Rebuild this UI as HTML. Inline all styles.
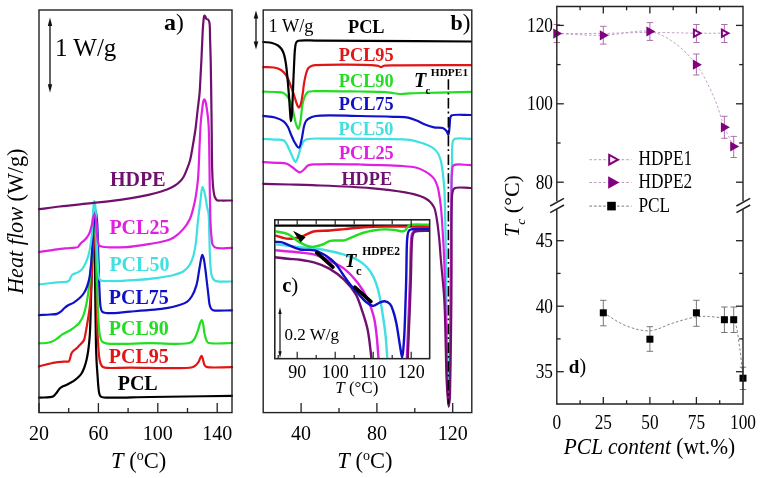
<!DOCTYPE html>
<html><head><meta charset="utf-8"><style>
html,body{margin:0;padding:0;background:#fff;}
svg{display:block;filter:blur(0.3px);font-family:"Liberation Serif",serif;}
</style></head><body>
<svg width="762" height="478" viewBox="0 0 762 478">
<rect width="762" height="478" fill="#fff"/>
<path d="M39.00,397.70 C43.67,397.30 50.17,397.82 53.00,396.50 C54.55,395.78 54.99,394.67 56.00,393.50 C57.22,392.08 58.39,389.75 59.70,388.50 C60.75,387.50 61.86,386.89 63.00,386.30 C64.09,385.73 65.23,385.53 66.40,385.00 C67.72,384.40 69.13,383.60 70.50,382.80 C71.93,381.97 73.45,381.08 74.80,380.10 C76.11,379.14 77.37,378.11 78.50,377.00 C79.60,375.91 80.60,374.90 81.50,373.50 C82.58,371.83 83.49,369.64 84.30,367.50 C85.18,365.17 85.86,362.70 86.50,360.00 C87.23,356.92 87.79,353.68 88.30,350.00 C88.93,345.52 89.39,341.05 89.80,335.00 C90.42,325.78 90.62,312.40 91.00,300.00 C91.43,285.94 91.80,268.48 92.20,255.00 C92.53,243.99 92.81,231.51 93.20,225.00 C93.39,221.85 93.62,218.00 93.80,218.00 C94.08,218.01 94.30,227.71 94.50,235.00 C94.85,248.10 94.96,272.10 95.20,290.00 C95.43,307.06 95.60,326.71 95.90,340.00 C96.10,348.82 96.29,355.85 96.60,362.00 C96.83,366.45 97.12,369.59 97.40,373.50 C97.69,377.58 97.95,382.41 98.30,386.00 C98.57,388.73 98.69,391.34 99.20,393.20 C99.54,394.45 99.86,395.53 100.50,396.20 C101.03,396.76 101.34,396.93 102.50,397.20 C107.85,398.45 132.02,397.17 150.00,397.00 C173.63,396.78 204.67,396.20 232.00,395.80" fill="none" stroke="#000000" stroke-width="2.20" stroke-linejoin="round" stroke-linecap="round" />
<path d="M39.00,366.40 C44.23,365.13 50.17,363.37 54.70,362.60 C58.09,362.02 61.11,361.93 63.70,361.70 C65.67,361.53 67.83,362.09 68.90,361.30 C69.78,360.65 69.81,359.20 70.20,358.00 C70.65,356.61 70.74,354.70 71.40,353.40 C71.99,352.25 72.93,351.35 73.80,350.50 C74.63,349.69 75.63,349.18 76.50,348.40 C77.43,347.56 78.33,346.48 79.20,345.60 C79.99,344.79 80.75,344.16 81.50,343.30 C82.35,342.32 83.34,341.43 84.00,340.00 C84.93,337.99 85.24,334.82 85.80,332.00 C86.42,328.86 86.91,325.64 87.50,322.00 C88.20,317.64 89.10,312.95 89.70,307.60 C90.44,300.93 90.81,293.07 91.30,285.00 C91.86,275.71 92.31,263.99 92.80,255.00 C93.20,247.66 93.40,238.71 94.00,235.00 C94.24,233.54 94.58,231.98 94.80,232.00 C95.34,232.06 95.44,242.82 95.70,250.00 C96.09,260.70 96.32,276.67 96.60,290.00 C96.88,303.33 97.03,319.87 97.40,330.00 C97.63,336.20 97.88,340.28 98.20,345.00 C98.49,349.23 98.73,353.70 99.20,357.00 C99.53,359.35 99.77,361.30 100.40,363.00 C100.91,364.40 101.53,365.81 102.40,366.60 C103.12,367.25 103.65,367.43 105.00,367.70 C109.03,368.51 119.80,367.65 130.00,367.60 C146.11,367.52 184.26,369.44 192.30,367.20 C194.41,366.61 194.92,365.94 196.00,365.00 C197.10,364.04 198.05,362.76 198.80,361.50 C199.54,360.26 199.94,358.51 200.50,357.50 C200.87,356.82 201.26,355.87 201.60,355.90 C202.01,355.94 202.32,357.42 202.70,358.50 C203.30,360.20 203.71,363.77 204.60,365.20 C205.14,366.06 205.37,366.46 206.50,366.90 C210.06,368.29 223.50,367.10 232.00,367.20" fill="none" stroke="#e01515" stroke-width="2.20" stroke-linejoin="round" stroke-linecap="round" />
<path d="M39.00,343.30 C41.33,343.20 43.80,343.30 46.00,343.00 C48.01,342.73 49.91,342.39 51.70,341.70 C53.47,341.02 55.03,340.03 56.70,338.90 C58.59,337.62 60.60,335.47 62.40,334.30 C63.83,333.37 65.14,332.91 66.50,332.20 C67.87,331.48 69.17,330.90 70.60,330.00 C72.31,328.91 74.44,327.30 76.00,326.00 C77.30,324.91 78.34,324.16 79.40,322.80 C80.75,321.07 82.06,318.73 83.10,316.20 C84.35,313.17 85.13,309.64 86.00,305.70 C87.09,300.76 88.03,294.60 88.80,288.80 C89.61,282.71 90.13,276.52 90.70,270.00 C91.31,262.96 91.80,254.97 92.30,248.00 C92.76,241.70 93.08,234.38 93.60,230.00 C93.90,227.46 94.30,223.99 94.60,224.00 C95.00,224.01 95.31,230.18 95.60,235.00 C96.15,244.17 96.35,261.27 96.80,275.00 C97.28,289.56 97.64,308.80 98.40,320.00 C98.85,326.69 99.12,332.07 100.00,336.00 C100.54,338.39 100.85,340.38 102.00,341.60 C102.98,342.64 103.88,342.87 106.00,343.30 C112.74,344.66 135.68,343.29 150.00,343.20 C163.65,343.12 183.69,345.06 190.00,342.80 C192.29,341.98 192.93,341.02 194.10,339.50 C195.60,337.54 196.61,334.20 197.60,331.50 C198.57,328.86 199.16,325.59 200.00,323.50 C200.58,322.06 201.28,319.96 201.80,320.00 C202.37,320.05 202.79,322.70 203.20,324.50 C203.78,327.06 203.98,331.15 204.60,334.00 C205.12,336.39 205.72,338.93 206.50,340.50 C207.01,341.52 207.07,342.22 208.20,342.80 C211.46,344.46 224.07,342.93 232.00,343.00" fill="none" stroke="#22dd22" stroke-width="2.20" stroke-linejoin="round" stroke-linecap="round" />
<path d="M39.00,315.10 C42.67,314.90 46.76,314.73 50.00,314.50 C52.57,314.32 54.94,314.53 56.90,313.90 C58.54,313.37 59.88,312.35 61.10,311.40 C62.22,310.53 62.97,309.43 64.00,308.50 C65.07,307.53 66.03,306.58 67.40,305.70 C69.13,304.59 71.67,303.87 73.70,302.60 C75.85,301.26 78.12,299.50 79.90,297.80 C81.50,296.28 82.84,294.77 84.00,293.00 C85.19,291.18 86.05,289.24 86.90,287.00 C87.90,284.34 88.74,281.30 89.40,278.00 C90.18,274.09 90.52,269.91 91.00,265.00 C91.62,258.63 92.07,250.57 92.60,243.00 C93.17,234.93 93.56,223.93 94.30,218.00 C94.71,214.68 95.27,210.29 95.70,210.30 C96.18,210.31 96.64,215.75 97.00,220.00 C97.69,228.04 97.88,243.33 98.30,255.00 C98.72,266.67 99.03,280.42 99.50,290.00 C99.83,296.68 99.88,303.21 100.60,307.00 C100.97,308.97 101.07,310.40 102.00,311.40 C102.90,312.37 104.06,312.68 106.00,313.00 C110.59,313.75 121.17,312.27 130.00,311.60 C140.92,310.77 157.90,309.63 166.60,308.20 C171.51,307.39 174.46,306.62 178.00,305.50 C181.22,304.48 184.60,303.63 187.00,301.90 C189.14,300.36 190.54,298.39 192.00,296.00 C193.78,293.09 195.22,289.44 196.40,285.40 C197.87,280.38 198.60,273.00 199.50,268.00 C200.18,264.21 200.71,260.37 201.30,258.00 C201.64,256.66 201.92,254.92 202.30,254.90 C202.69,254.88 203.21,256.64 203.60,258.00 C204.27,260.36 204.69,264.32 205.20,268.00 C205.83,272.51 206.43,278.26 207.00,283.10 C207.53,287.57 208.05,292.19 208.50,296.00 C208.86,299.04 208.97,301.93 209.50,304.20 C209.89,305.89 210.29,307.46 211.00,308.50 C211.54,309.29 211.88,309.78 213.00,310.20 C216.02,311.32 225.67,310.27 232.00,310.30" fill="none" stroke="#1010c8" stroke-width="2.20" stroke-linejoin="round" stroke-linecap="round" />
<path d="M39.00,284.50 C44.97,283.80 51.59,282.99 56.90,282.40 C61.15,281.93 66.49,282.23 68.40,281.20 C69.23,280.75 69.41,280.16 69.80,279.50 C70.23,278.78 70.36,277.81 70.80,277.00 C71.27,276.14 71.71,275.20 72.60,274.50 C73.80,273.56 76.21,273.29 77.80,272.40 C79.33,271.54 80.80,270.61 82.00,269.30 C83.30,267.89 84.20,266.18 85.20,264.10 C86.52,261.34 87.80,257.85 88.80,254.00 C90.06,249.12 90.91,243.11 91.60,237.00 C92.40,229.93 92.50,220.61 93.00,214.00 C93.38,208.99 93.69,200.83 94.20,200.80 C94.52,200.78 94.99,203.62 95.30,206.00 C95.96,211.07 96.14,221.69 96.50,230.00 C96.88,238.97 97.11,249.97 97.50,258.00 C97.80,264.08 97.88,269.97 98.50,274.00 C98.89,276.50 98.57,278.76 100.00,280.00 C101.82,281.58 105.94,280.87 110.00,281.00 C116.27,281.21 126.01,280.73 134.00,280.20 C142.01,279.67 150.86,278.79 158.00,277.80 C163.80,276.99 169.17,276.23 173.70,275.00 C177.31,274.02 180.51,273.22 183.20,271.50 C185.72,269.89 187.83,267.71 189.50,265.20 C191.29,262.51 192.38,259.15 193.40,255.70 C194.54,251.85 195.11,247.89 195.80,243.10 C196.69,236.86 197.13,228.33 197.90,221.40 C198.61,215.01 199.41,208.93 200.20,203.00 C200.94,197.45 201.51,186.99 202.50,186.90 C203.16,186.84 204.12,191.09 204.80,193.80 C205.73,197.50 206.37,203.66 207.10,207.20 C207.58,209.54 208.15,210.42 208.50,213.00 C209.18,217.95 209.01,227.10 209.30,235.00 C209.64,244.23 209.73,257.37 210.40,265.00 C210.82,269.75 210.90,273.68 212.00,276.50 C212.74,278.39 213.23,279.83 215.00,280.80 C218.18,282.54 226.33,281.27 232.00,281.50" fill="none" stroke="#40e0e0" stroke-width="2.20" stroke-linejoin="round" stroke-linecap="round" />
<path d="M39.00,252.00 C44.97,251.13 51.39,250.09 56.90,249.40 C61.60,248.81 66.20,248.42 70.00,248.00 C72.94,247.67 76.23,247.96 77.80,247.10 C78.72,246.59 78.95,245.68 79.50,245.00 C80.02,244.35 80.33,243.80 81.00,243.10 C82.01,242.05 83.93,240.88 85.20,239.50 C86.54,238.04 87.90,236.18 88.80,234.50 C89.60,233.01 90.01,231.55 90.50,230.00 C91.01,228.39 91.38,226.87 91.80,225.00 C92.32,222.65 92.69,218.91 93.30,217.00 C93.66,215.87 94.14,214.38 94.50,214.40 C94.92,214.43 95.30,216.43 95.60,218.00 C96.14,220.81 96.26,226.29 96.60,230.00 C96.89,233.22 97.03,236.26 97.50,239.00 C97.91,241.36 98.10,244.34 99.10,245.50 C99.72,246.22 100.24,246.23 101.50,246.50 C105.41,247.33 118.30,247.55 126.50,247.10 C134.50,246.66 143.04,245.07 150.10,243.90 C155.91,242.94 161.59,242.11 165.90,240.80 C169.04,239.85 171.20,239.13 173.80,237.50 C176.91,235.55 180.33,232.47 183.00,229.40 C185.70,226.31 188.05,223.00 189.90,219.00 C192.04,214.38 193.23,208.86 194.50,203.00 C196.00,196.07 197.07,188.49 197.90,180.00 C198.92,169.58 199.07,155.45 199.60,145.00 C200.03,136.53 200.28,128.42 200.80,122.00 C201.17,117.35 201.66,113.59 202.10,110.00 C202.46,107.06 202.71,103.94 203.20,102.00 C203.49,100.84 203.81,99.34 204.20,99.30 C204.53,99.26 204.96,100.16 205.30,101.00 C206.04,102.84 206.59,106.99 207.10,110.50 C207.73,114.81 208.23,119.11 208.60,125.00 C209.18,134.13 209.20,148.78 209.40,160.00 C209.59,170.38 209.61,179.69 209.80,190.00 C210.00,200.98 210.18,215.14 210.60,224.00 C210.87,229.69 211.13,234.14 211.60,238.00 C211.93,240.74 211.85,243.30 212.80,245.00 C213.54,246.31 214.36,247.18 216.00,247.80 C219.18,249.01 226.67,247.87 232.00,247.90" fill="none" stroke="#e020e0" stroke-width="2.20" stroke-linejoin="round" stroke-linecap="round" />
<path d="M39.00,209.20 C46.00,208.30 52.43,207.39 60.00,206.50 C68.88,205.45 79.17,204.50 89.00,203.40 C99.16,202.27 110.68,201.09 120.00,199.80 C127.69,198.73 134.72,197.62 141.00,196.40 C146.16,195.39 150.54,194.41 155.00,193.20 C159.18,192.06 163.45,190.82 167.00,189.40 C169.98,188.21 172.71,186.95 175.00,185.50 C176.94,184.27 178.55,182.97 180.00,181.50 C181.36,180.12 182.43,178.79 183.50,177.00 C184.82,174.78 185.92,171.73 187.00,169.00 C188.09,166.23 189.11,163.79 190.00,160.50 C191.16,156.18 191.99,150.38 192.90,145.20 C193.83,139.88 194.76,134.47 195.50,129.00 C196.26,123.41 196.74,117.83 197.40,112.00 C198.10,105.82 199.06,99.17 199.60,92.90 C200.12,86.84 200.29,80.67 200.60,75.00 C200.88,69.86 201.14,65.60 201.40,60.30 C201.71,54.08 201.99,46.26 202.30,40.00 C202.56,34.62 202.79,29.06 203.10,25.00 C203.31,22.22 203.50,19.72 203.80,18.00 C203.98,16.98 204.07,15.69 204.40,15.60 C204.63,15.54 205.01,16.09 205.30,16.50 C205.73,17.10 205.94,18.51 206.50,19.00 C206.94,19.38 207.66,19.10 208.10,19.50 C208.72,20.07 209.07,21.10 209.40,22.60 C210.16,26.00 209.89,33.98 210.10,40.00 C210.33,46.51 210.52,52.41 210.70,60.30 C210.95,71.33 211.12,87.69 211.30,100.00 C211.45,110.70 211.56,119.28 211.70,130.00 C211.86,142.38 211.84,159.30 212.20,170.00 C212.44,177.19 212.62,183.04 213.20,188.00 C213.61,191.53 213.92,194.80 214.80,197.00 C215.38,198.45 216.04,199.75 217.00,200.30 C217.83,200.78 218.67,200.46 220.00,200.50 C222.67,200.59 228.00,200.50 232.00,200.50" fill="none" stroke="#70106e" stroke-width="2.20" stroke-linejoin="round" stroke-linecap="round" />
<rect x="39" y="10" width="193" height="402.6" fill="none" stroke="#222" stroke-width="1.40"/>
<line x1="39.0" y1="412.6" x2="39.0" y2="403.1" stroke="#222" stroke-width="1.30" />
<line x1="98.4" y1="412.6" x2="98.4" y2="403.1" stroke="#222" stroke-width="1.30" />
<line x1="157.8" y1="412.6" x2="157.8" y2="403.1" stroke="#222" stroke-width="1.30" />
<line x1="217.2" y1="412.6" x2="217.2" y2="403.1" stroke="#222" stroke-width="1.30" />
<line x1="68.7" y1="412.6" x2="68.7" y2="408.0" stroke="#222" stroke-width="1.30" />
<line x1="128.1" y1="412.6" x2="128.1" y2="408.0" stroke="#222" stroke-width="1.30" />
<line x1="187.5" y1="412.6" x2="187.5" y2="408.0" stroke="#222" stroke-width="1.30" />
<text x="39.0" y="439.5" font-size="20.0" font-weight="normal" font-style="normal" fill="#000" text-anchor="middle" >20</text>
<text x="98.4" y="439.5" font-size="20.0" font-weight="normal" font-style="normal" fill="#000" text-anchor="middle" >60</text>
<text x="157.8" y="439.5" font-size="20.0" font-weight="normal" font-style="normal" fill="#000" text-anchor="middle" >100</text>
<text x="217.2" y="439.5" font-size="20.0" font-weight="normal" font-style="normal" fill="#000" text-anchor="middle" >140</text>
<text x="111" y="467.6" font-size="22.5"><tspan font-style="italic">T</tspan> (<tspan font-size="14" dy="-8">o</tspan><tspan dy="8">C)</tspan></text>
<text transform="translate(23,221.2) rotate(-90)" font-size="22.2" text-anchor="middle"><tspan font-style="italic">Heat flow</tspan> (W/g)</text>
<line x1="50.0" y1="24.0" x2="50.0" y2="86.0" stroke="#111" stroke-width="1.30" />
<path d="M50,17.5 L47.8,26 L52.2,26 Z" fill="#111"/>
<path d="M50,92.7 L47.8,84.2 L52.2,84.2 Z" fill="#111"/>
<text x="55.0" y="55.6" font-size="25.0" font-weight="normal" font-style="normal" fill="#000" text-anchor="start" >1 W/g</text>
<text x="164" y="30.4" font-size="24"><tspan font-weight="bold">a</tspan><tspan font-size="23.5">)</tspan></text>
<text x="110.0" y="185.9" font-size="20.0" font-weight="bold" font-style="normal" fill="#70106e" text-anchor="start" >HDPE</text>
<text x="109.4" y="234.0" font-size="20.0" font-weight="bold" font-style="normal" fill="#e020e0" text-anchor="start" >PCL25</text>
<text x="109.4" y="271.3" font-size="20.0" font-weight="bold" font-style="normal" fill="#40e0e0" text-anchor="start" >PCL50</text>
<text x="108.8" y="303.8" font-size="20.0" font-weight="bold" font-style="normal" fill="#1010c8" text-anchor="start" >PCL75</text>
<text x="108.8" y="334.9" font-size="20.0" font-weight="bold" font-style="normal" fill="#22dd22" text-anchor="start" >PCL90</text>
<text x="108.8" y="363.2" font-size="20.0" font-weight="bold" font-style="normal" fill="#e01515" text-anchor="start" >PCL95</text>
<text x="117.7" y="390.0" font-size="20.0" font-weight="bold" font-style="normal" fill="#000" text-anchor="start" >PCL</text>
<path d="M263.20,139.00 C267.13,139.20 271.35,139.32 275.00,139.60 C278.18,139.84 281.53,138.96 283.90,140.50 C286.61,142.25 288.10,147.46 289.70,150.60 C291.03,153.22 291.93,155.92 293.00,158.00 C293.82,159.59 294.60,162.12 295.40,162.10 C296.27,162.07 297.18,159.06 298.00,157.00 C299.15,154.11 300.00,149.10 301.20,146.20 C302.07,144.10 302.86,142.19 304.00,141.00 C304.88,140.08 305.44,139.65 307.00,139.20 C311.00,138.04 320.86,138.68 330.00,138.60 C343.47,138.48 365.45,138.75 380.00,139.00 C391.27,139.20 402.30,138.69 410.00,139.80 C414.95,140.52 418.18,141.66 422.00,143.00 C425.67,144.28 429.77,145.75 432.50,147.60 C434.64,149.04 436.16,150.53 437.50,152.50 C438.95,154.64 439.88,157.26 440.70,160.10 C441.67,163.44 442.08,167.63 442.60,171.40 C443.12,175.16 443.48,179.34 443.80,182.70 C444.05,185.40 444.22,186.87 444.40,190.00 C444.71,195.60 444.88,204.34 445.10,213.50 C445.40,226.38 445.70,245.08 445.90,260.00 C446.09,273.83 446.09,285.92 446.30,300.00 C446.54,315.74 447.03,335.45 447.30,350.00 C447.51,361.27 447.57,370.46 447.80,380.00 C448.01,388.71 448.24,404.99 448.60,405.00 C448.83,405.01 449.23,398.67 449.40,395.00 C449.61,390.51 449.52,386.98 449.60,380.00 C449.78,363.88 450.05,324.75 450.30,300.00 C450.52,278.56 450.77,259.09 451.00,240.00 C451.21,222.57 451.42,204.55 451.60,190.00 C451.74,178.73 451.71,168.86 452.00,160.00 C452.23,152.94 451.70,144.12 453.00,141.00 C453.52,139.77 453.84,139.31 455.00,138.80 C457.69,137.61 465.67,138.80 471.00,138.80" fill="none" stroke="#40e0e0" stroke-width="2.20" stroke-linejoin="round" stroke-linecap="round" />
<path d="M263.20,162.10 C268.13,162.33 273.71,162.46 278.00,162.80 C281.32,163.07 284.33,162.95 286.80,163.80 C288.85,164.51 290.11,165.78 292.00,167.00 C294.35,168.52 297.60,172.29 299.80,172.30 C301.41,172.31 302.63,170.60 304.00,169.50 C305.50,168.30 306.46,166.20 308.40,165.30 C310.85,164.17 313.66,164.51 318.00,164.30 C327.05,163.85 346.17,164.24 360.00,164.50 C373.50,164.75 389.55,165.01 400.00,165.80 C406.78,166.31 412.17,166.57 416.70,167.80 C420.02,168.70 422.49,170.00 425.00,171.40 C427.32,172.69 429.56,174.21 431.30,175.80 C432.80,177.17 433.99,178.51 435.00,180.20 C436.10,182.04 436.88,184.56 437.50,186.50 C438.01,188.11 438.22,189.03 438.60,191.00 C439.31,194.65 440.27,201.00 440.90,206.80 C441.67,213.85 442.08,222.01 442.60,230.30 C443.19,239.62 443.77,249.36 444.20,260.00 C444.70,272.34 444.92,285.92 445.30,300.00 C445.72,315.74 446.27,335.45 446.60,350.00 C446.86,361.27 446.84,370.36 447.20,380.00 C447.53,388.98 448.14,405.99 448.60,406.00 C448.90,406.00 449.29,398.95 449.50,395.00 C449.75,390.39 449.77,386.98 449.90,380.00 C450.21,363.89 450.57,322.09 450.80,300.00 C450.97,284.38 451.10,274.68 451.20,260.00 C451.32,242.02 451.20,216.23 451.40,200.00 C451.54,188.91 451.25,178.08 452.00,172.00 C452.37,169.01 451.80,166.78 453.50,165.40 C456.23,163.18 465.17,165.20 471.00,165.10" fill="none" stroke="#e020e0" stroke-width="2.20" stroke-linejoin="round" stroke-linecap="round" />
<path d="M263.20,183.80 C272.13,184.03 281.44,184.26 290.00,184.50 C297.88,184.72 303.40,184.82 312.70,185.20 C327.55,185.80 353.70,186.64 370.50,188.10 C383.56,189.24 396.10,190.73 405.20,192.40 C411.21,193.50 416.21,194.67 420.00,196.00 C422.50,196.88 424.25,197.75 426.00,198.80 C427.52,199.71 428.74,200.52 430.00,201.80 C431.51,203.33 433.13,205.23 434.20,207.60 C435.54,210.56 435.96,214.29 436.70,218.50 C437.70,224.16 438.51,231.79 439.20,238.60 C439.91,245.61 440.22,251.76 440.90,260.00 C441.83,271.27 443.49,285.91 444.30,300.00 C445.20,315.73 445.39,335.45 445.80,350.00 C446.12,361.27 446.11,370.29 446.60,380.00 C447.07,389.19 447.90,406.77 448.60,406.80 C448.96,406.82 449.43,402.87 449.70,400.00 C450.17,395.10 450.11,388.89 450.30,380.00 C450.69,362.22 451.22,322.09 451.40,300.00 C451.53,284.38 451.47,274.08 451.50,260.00 C451.54,244.26 451.24,222.50 451.60,210.00 C451.82,202.50 451.61,195.72 452.60,192.00 C453.08,190.20 453.14,189.05 454.50,188.20 C457.18,186.52 465.50,188.07 471.00,188.00" fill="none" stroke="#70106e" stroke-width="2.20" stroke-linejoin="round" stroke-linecap="round" />
<path d="M263.20,115.90 C267.13,116.43 271.42,116.44 275.00,117.50 C278.26,118.46 281.65,119.89 283.90,121.70 C285.76,123.19 286.84,124.98 288.00,127.00 C289.29,129.25 289.97,132.10 291.10,134.70 C292.29,137.43 293.54,140.70 295.00,143.00 C296.19,144.88 297.85,147.89 298.90,147.70 C300.11,147.48 300.72,142.98 301.50,140.00 C302.53,136.06 303.13,129.46 304.10,126.00 C304.69,123.88 305.15,122.26 306.00,121.00 C306.67,120.02 307.30,119.48 308.40,118.80 C310.09,117.75 312.09,116.66 315.60,116.00 C324.02,114.42 346.23,115.84 360.00,116.00 C371.98,116.14 384.74,116.45 393.60,116.80 C399.40,117.03 403.85,116.81 408.00,117.60 C411.31,118.23 413.87,119.35 416.70,120.50 C419.54,121.65 422.13,123.37 425.00,124.50 C427.90,125.64 430.99,126.72 434.00,127.30 C436.89,127.86 440.49,127.13 442.70,128.00 C444.35,128.65 445.54,129.82 446.50,131.00 C447.40,132.11 447.91,134.88 448.40,134.80 C449.10,134.68 449.25,128.95 449.60,126.00 C449.95,123.02 449.73,118.76 450.50,117.00 C450.88,116.12 451.07,115.73 452.00,115.30 C454.70,114.05 464.67,115.10 471.00,115.00" fill="none" stroke="#1010c8" stroke-width="2.20" stroke-linejoin="round" stroke-linecap="round" />
<path d="M263.20,91.70 C267.13,91.80 271.35,91.73 275.00,92.00 C278.18,92.24 281.53,91.83 283.90,93.10 C286.11,94.28 287.61,96.62 289.00,99.00 C290.62,101.77 291.52,105.29 292.60,109.00 C293.90,113.46 294.77,120.39 296.00,124.00 C296.73,126.16 297.61,129.06 298.30,129.00 C299.15,128.93 299.86,124.22 300.50,121.00 C301.44,116.28 301.61,108.05 302.70,103.30 C303.46,99.97 304.31,97.03 305.50,95.00 C306.34,93.57 307.07,92.46 308.40,91.80 C310.05,90.98 311.81,91.33 315.00,91.20 C323.30,90.85 348.00,91.37 360.00,91.50 C368.00,91.59 374.48,91.54 380.00,91.80 C383.91,91.99 386.67,92.23 390.00,92.60 C393.34,92.97 396.66,93.87 400.00,94.00 C403.33,94.13 406.67,93.57 410.00,93.40 C413.33,93.23 416.09,93.12 420.00,93.00 C425.52,92.83 432.61,92.77 440.00,92.60 C449.21,92.39 460.67,92.07 471.00,91.80" fill="none" stroke="#22dd22" stroke-width="2.20" stroke-linejoin="round" stroke-linecap="round" />
<path d="M263.20,67.10 C266.80,67.23 270.83,66.89 274.00,67.50 C276.63,68.01 278.98,68.72 281.00,70.00 C282.97,71.25 284.60,72.99 286.00,75.00 C287.56,77.24 288.49,80.03 289.70,83.00 C291.16,86.57 292.70,91.17 294.00,95.00 C295.18,98.47 296.15,102.79 297.20,105.00 C297.77,106.20 298.35,107.61 298.90,107.60 C299.45,107.59 300.03,106.21 300.50,105.00 C301.37,102.80 301.92,98.50 302.50,95.00 C303.13,91.19 303.46,86.70 304.10,83.00 C304.65,79.77 305.19,76.67 306.00,74.00 C306.68,71.77 307.22,69.40 308.40,68.00 C309.35,66.87 310.75,66.28 312.00,65.80 C313.18,65.34 313.70,65.28 315.70,65.10 C323.82,64.38 370.58,64.11 378.00,65.80 C379.71,66.19 380.00,67.20 381.00,67.20 C382.00,67.20 382.55,66.14 384.00,65.80 C387.18,65.05 392.77,65.51 400.00,65.40 C415.24,65.18 447.33,65.20 471.00,65.10" fill="none" stroke="#e01515" stroke-width="2.20" stroke-linejoin="round" stroke-linecap="round" />
<path d="M263.20,42.00 C266.13,42.33 269.39,42.32 272.00,43.00 C274.24,43.58 276.35,44.40 278.00,45.50 C279.44,46.46 280.54,47.63 281.50,49.00 C282.53,50.47 283.23,52.12 283.90,54.10 C284.75,56.62 285.26,59.67 285.80,63.00 C286.48,67.19 286.89,72.12 287.40,77.30 C288.00,83.45 288.62,91.10 289.10,97.50 C289.54,103.28 289.84,109.63 290.20,114.00 C290.44,116.89 290.60,121.19 290.90,121.20 C291.15,121.21 291.55,118.22 291.80,116.00 C292.23,112.14 292.35,105.63 292.60,100.00 C292.88,93.71 293.13,86.49 293.40,80.00 C293.66,73.84 293.91,67.51 294.20,62.00 C294.45,57.31 294.56,52.58 295.00,49.00 C295.31,46.45 295.34,43.88 296.20,42.50 C296.77,41.59 297.24,41.22 298.50,40.80 C301.96,39.64 309.59,40.62 320.00,40.60 C347.58,40.55 420.67,41.20 471.00,41.50" fill="none" stroke="#000000" stroke-width="2.20" stroke-linejoin="round" stroke-linecap="round" />
<line x1="448.4" y1="79.3" x2="448.4" y2="404" stroke="#000" stroke-width="1.6" stroke-dasharray="10.5 3 1.8 3.5"/>
<rect x="263.2" y="10" width="208.6" height="402.6" fill="none" stroke="#222" stroke-width="1.40"/>
<line x1="301.1" y1="412.6" x2="301.1" y2="403.1" stroke="#222" stroke-width="1.30" />
<line x1="376.9" y1="412.6" x2="376.9" y2="403.1" stroke="#222" stroke-width="1.30" />
<line x1="452.7" y1="412.6" x2="452.7" y2="403.1" stroke="#222" stroke-width="1.30" />
<line x1="339.0" y1="412.6" x2="339.0" y2="408.0" stroke="#222" stroke-width="1.30" />
<line x1="414.8" y1="412.6" x2="414.8" y2="408.0" stroke="#222" stroke-width="1.30" />
<text x="301.1" y="439.5" font-size="20.0" font-weight="normal" font-style="normal" fill="#000" text-anchor="middle" >40</text>
<text x="376.9" y="439.5" font-size="20.0" font-weight="normal" font-style="normal" fill="#000" text-anchor="middle" >80</text>
<text x="452.7" y="439.5" font-size="20.0" font-weight="normal" font-style="normal" fill="#000" text-anchor="middle" >120</text>
<text x="337.3" y="467.6" font-size="22.5"><tspan font-style="italic">T</tspan> (<tspan font-size="14" dy="-8">o</tspan><tspan dy="8">C)</tspan></text>
<line x1="256.0" y1="18.0" x2="256.0" y2="42.0" stroke="#111" stroke-width="1.30" />
<path d="M256,10.6 L253.7,18.6 L258.3,18.6 Z" fill="#111"/>
<path d="M256,49.5 L253.7,41.5 L258.3,41.5 Z" fill="#111"/>
<text x="268.6" y="32.2" font-size="18.3" font-weight="normal" font-style="normal" fill="#000" text-anchor="start" >1 W/g</text>
<text x="348.0" y="32.6" font-size="18.3" font-weight="bold" font-style="normal" fill="#000" text-anchor="start" >PCL</text>
<text x="450.5" y="30.4" font-size="22"><tspan font-weight="bold">b</tspan><tspan font-size="23">)</tspan></text>
<text x="338.8" y="61.3" font-size="18.3" font-weight="bold" font-style="normal" fill="#e01515" text-anchor="start" >PCL95</text>
<text x="338.8" y="86.5" font-size="18.3" font-weight="bold" font-style="normal" fill="#22dd22" text-anchor="start" >PCL90</text>
<text x="338.8" y="109.5" font-size="18.3" font-weight="bold" font-style="normal" fill="#1010c8" text-anchor="start" >PCL75</text>
<text x="338.6" y="135.0" font-size="18.3" font-weight="bold" font-style="normal" fill="#40e0e0" text-anchor="start" >PCL50</text>
<text x="338.9" y="159.4" font-size="18.3" font-weight="bold" font-style="normal" fill="#e020e0" text-anchor="start" >PCL25</text>
<text x="341.4" y="184.5" font-size="18.3" font-weight="bold" font-style="normal" fill="#70106e" text-anchor="start" >HDPE</text>
<text x="414.0" y="86.5" font-size="20.0" font-weight="bold" font-style="italic" fill="#000" text-anchor="start" >T</text>
<text x="425.6" y="93.8" font-size="11.0" font-weight="bold" font-style="normal" fill="#000" text-anchor="start" >c</text>
<text x="430.8" y="76.0" font-size="11.3" font-weight="bold" font-style="normal" fill="#000" text-anchor="start" textLength="37.3" lengthAdjust="spacingAndGlyphs">HDPE1</text>
<rect x="274.7" y="219.7" width="154.9" height="138.9" fill="#fff" stroke="#222" stroke-width="1.3"/>
<g clip-path="url(#clipc)">
<path d="M407.20,358.60 C407.80,344.07 408.46,328.74 409.00,315.00 C409.48,302.69 409.90,292.06 410.30,280.00 C410.73,267.11 410.83,247.43 411.50,240.00 C411.76,237.11 411.80,235.50 412.40,234.00 C412.82,232.96 413.41,232.09 414.10,231.60 C414.68,231.18 415.12,231.16 416.10,231.00 C418.60,230.60 425.17,230.73 429.70,230.60" fill="none" stroke="#40e0e0" stroke-width="2.40" stroke-linejoin="round" stroke-linecap="round" />
<path d="M406.90,358.40 C407.50,343.87 408.16,328.54 408.70,314.80 C409.18,302.49 409.60,291.86 410.00,279.80 C410.43,266.91 410.53,247.23 411.20,239.80 C411.46,236.91 411.50,235.30 412.10,233.80 C412.52,232.76 413.11,231.89 413.80,231.40 C414.38,230.98 414.82,230.96 415.80,230.80 C418.30,230.40 424.87,230.53 429.40,230.40" fill="none" stroke="#e020e0" stroke-width="2.40" stroke-linejoin="round" stroke-linecap="round" />
<path d="M407.70,358.80 C408.30,344.27 408.96,328.94 409.50,315.20 C409.98,302.89 410.40,292.26 410.80,280.20 C411.23,267.31 411.33,247.63 412.00,240.20 C412.26,237.31 412.30,235.70 412.90,234.20 C413.32,233.16 413.91,232.29 414.60,231.80 C415.18,231.38 415.62,231.36 416.60,231.20 C419.10,230.80 425.67,230.93 430.20,230.80" fill="none" stroke="#70106e" stroke-width="2.40" stroke-linejoin="round" stroke-linecap="round" />
<path d="M274.70,257.20 C279.13,257.73 283.68,258.36 288.00,258.80 C292.10,259.22 295.81,259.21 300.00,259.80 C304.67,260.45 309.88,261.26 314.70,262.70 C319.65,264.17 324.59,265.95 329.30,268.60 C334.38,271.47 339.62,275.36 344.00,279.60 C348.43,283.88 352.74,289.09 355.70,294.20 C358.42,298.90 359.66,303.57 361.50,308.90 C363.62,315.06 366.00,322.25 367.50,329.10 C369.00,335.95 369.82,344.55 370.50,350.00 C370.93,353.49 371.10,355.73 371.40,358.60" fill="none" stroke="#70106e" stroke-width="2.40" stroke-linejoin="round" stroke-linecap="round" />
<path d="M274.70,250.30 C283.13,251.03 292.72,251.64 300.00,252.50 C305.57,253.16 309.88,253.40 314.70,254.70 C319.65,256.04 324.50,258.23 329.30,260.50 C334.27,262.84 339.37,265.02 344.00,268.60 C349.21,272.62 354.57,278.71 358.60,284.00 C362.21,288.74 365.12,293.94 367.40,298.60 C369.33,302.55 370.59,306.29 371.80,310.00 C372.92,313.41 373.74,316.25 374.50,320.00 C375.45,324.68 376.07,330.20 376.70,336.00 C377.45,342.87 377.90,351.07 378.50,358.60" fill="none" stroke="#e020e0" stroke-width="2.40" stroke-linejoin="round" stroke-linecap="round" />
<path d="M274.70,244.10 C283.13,245.17 291.86,246.38 300.00,247.30 C307.58,248.16 314.71,248.28 322.00,249.50 C329.37,250.73 337.48,252.65 344.00,254.70 C349.43,256.41 354.50,258.07 358.60,260.50 C362.09,262.57 364.92,265.05 367.40,267.80 C369.79,270.44 371.63,273.34 373.30,276.60 C375.12,280.15 376.56,284.57 377.70,288.40 C378.74,291.89 379.25,294.79 380.00,298.60 C380.95,303.41 381.92,309.19 382.80,315.00 C383.80,321.56 384.86,328.86 385.60,336.00 C386.37,343.38 386.73,351.07 387.30,358.60" fill="none" stroke="#40e0e0" stroke-width="2.40" stroke-linejoin="round" stroke-linecap="round" />
<path d="M274.70,241.80 C276.83,241.93 278.46,241.62 281.10,242.20 C285.79,243.23 294.00,248.21 300.00,249.50 C305.12,250.60 310.19,249.11 314.70,250.30 C318.95,251.42 322.90,253.82 326.40,256.10 C329.68,258.23 332.57,260.56 335.20,263.40 C337.97,266.38 340.07,270.27 342.50,273.70 C344.93,277.13 347.17,280.64 349.80,284.00 C352.52,287.47 355.61,290.98 358.60,294.20 C361.48,297.30 364.60,301.00 367.40,303.00 C369.44,304.46 371.35,305.91 373.30,305.90 C375.22,305.89 377.07,303.79 379.00,303.00 C380.87,302.24 382.87,301.03 384.70,301.20 C386.53,301.37 388.60,302.49 390.00,304.00 C391.69,305.82 392.50,309.08 393.50,312.00 C394.64,315.33 395.39,318.65 396.30,323.00 C397.59,329.19 398.89,339.37 400.00,345.70 C400.80,350.28 401.57,357.53 402.20,357.50 C402.96,357.47 403.53,346.33 404.00,340.00 C404.55,332.53 404.76,324.42 405.10,315.50 C405.51,304.76 405.87,292.19 406.20,280.00 C406.55,267.07 406.51,247.86 407.10,240.00 C407.35,236.70 407.43,234.77 408.00,233.00 C408.38,231.81 408.83,230.82 409.50,230.20 C410.05,229.68 410.46,229.53 411.50,229.30 C414.48,228.64 423.57,229.17 429.60,229.10" fill="none" stroke="#1010c8" stroke-width="2.40" stroke-linejoin="round" stroke-linecap="round" />
<path d="M274.70,225.60 C319.80,225.60 385.13,225.60 410.00,225.60 C419.46,225.60 423.07,225.60 429.60,225.60" fill="none" stroke="#000000" stroke-width="2.40" stroke-linejoin="round" stroke-linecap="round" />
<path d="M274.70,235.30 C279.13,236.47 283.50,238.59 288.00,238.80 C292.54,239.01 297.47,237.77 301.80,236.50 C305.91,235.29 309.09,232.53 313.40,231.50 C318.35,230.32 324.67,230.92 330.00,230.50 C334.97,230.11 339.93,229.54 344.40,229.10 C348.29,228.71 351.21,228.33 355.30,228.00 C360.55,227.58 367.94,227.13 373.30,226.90 C377.62,226.71 380.49,226.66 385.00,226.60 C391.18,226.52 399.62,226.57 407.00,226.60 C414.48,226.63 422.07,226.73 429.60,226.80" fill="none" stroke="#e01515" stroke-width="2.40" stroke-linejoin="round" stroke-linecap="round" />
<path d="M274.70,231.20 C279.13,232.20 283.89,232.39 288.00,234.20 C292.17,236.03 295.54,240.07 299.50,242.20 C303.22,244.21 307.10,246.44 311.00,246.80 C314.81,247.15 319.23,245.65 322.60,244.50 C325.42,243.54 327.03,241.56 330.00,240.80 C333.92,239.80 340.47,241.12 344.40,240.30 C347.31,239.69 349.03,238.47 351.70,237.40 C354.95,236.09 358.85,234.16 362.50,233.00 C366.06,231.87 369.61,231.10 373.30,230.50 C377.10,229.88 381.25,229.46 385.00,229.40 C388.46,229.34 391.92,229.62 395.00,230.00 C397.69,230.33 400.68,231.55 402.50,231.40 C403.57,231.31 404.27,231.02 405.00,230.50 C405.80,229.93 406.34,228.83 407.00,228.00 C407.64,227.19 408.17,226.14 408.90,225.60 C409.53,225.14 409.92,225.00 411.00,224.80 C414.09,224.22 423.40,224.73 429.60,224.70" fill="none" stroke="#22dd22" stroke-width="2.40" stroke-linejoin="round" stroke-linecap="round" />
</g>
<defs><clipPath id="clipc"><rect x="274.7" y="219.7" width="154.9" height="138.9"/></clipPath></defs>
<line x1="316.8" y1="252.6" x2="332.9" y2="267.1" stroke="#000" stroke-width="3.60" stroke-linecap="round"/>
<line x1="354.8" y1="287.1" x2="370.9" y2="301.6" stroke="#000" stroke-width="3.60" stroke-linecap="round"/>
<path d="M293,230.7 L305.6,237.2 L300.5,242.5 Z" fill="#000"/>
<rect x="274.7" y="219.7" width="154.9" height="138.9" fill="none" stroke="#222" stroke-width="1.3"/>
<line x1="278.2" y1="358.6" x2="278.2" y2="355.0" stroke="#222" stroke-width="1.20" />
<line x1="278.2" y1="219.7" x2="278.2" y2="224.5" stroke="#222" stroke-width="1.20" />
<line x1="316.2" y1="358.6" x2="316.2" y2="355.0" stroke="#222" stroke-width="1.20" />
<line x1="316.2" y1="219.7" x2="316.2" y2="224.5" stroke="#222" stroke-width="1.20" />
<line x1="354.2" y1="358.6" x2="354.2" y2="355.0" stroke="#222" stroke-width="1.20" />
<line x1="354.2" y1="219.7" x2="354.2" y2="224.5" stroke="#222" stroke-width="1.20" />
<line x1="392.2" y1="358.6" x2="392.2" y2="355.0" stroke="#222" stroke-width="1.20" />
<line x1="392.2" y1="219.7" x2="392.2" y2="224.5" stroke="#222" stroke-width="1.20" />
<line x1="297.2" y1="358.6" x2="297.2" y2="351.7" stroke="#222" stroke-width="1.20" />
<line x1="297.2" y1="219.7" x2="297.2" y2="227.0" stroke="#222" stroke-width="1.20" />
<line x1="335.2" y1="358.6" x2="335.2" y2="351.7" stroke="#222" stroke-width="1.20" />
<line x1="335.2" y1="219.7" x2="335.2" y2="227.0" stroke="#222" stroke-width="1.20" />
<line x1="373.2" y1="358.6" x2="373.2" y2="351.7" stroke="#222" stroke-width="1.20" />
<line x1="373.2" y1="219.7" x2="373.2" y2="227.0" stroke="#222" stroke-width="1.20" />
<line x1="411.2" y1="358.6" x2="411.2" y2="351.7" stroke="#222" stroke-width="1.20" />
<line x1="411.2" y1="219.7" x2="411.2" y2="227.0" stroke="#222" stroke-width="1.20" />
<text x="297.2" y="377.6" font-size="18.0" font-weight="normal" font-style="normal" fill="#000" text-anchor="middle" >90</text>
<text x="335.2" y="377.6" font-size="18.0" font-weight="normal" font-style="normal" fill="#000" text-anchor="middle" >100</text>
<text x="373.2" y="377.6" font-size="18.0" font-weight="normal" font-style="normal" fill="#000" text-anchor="middle" >110</text>
<text x="411.2" y="377.6" font-size="18.0" font-weight="normal" font-style="normal" fill="#000" text-anchor="middle" >120</text>
<text x="335.2" y="392.5" font-size="17"><tspan font-style="italic">T</tspan> (°C)</text>
<text x="284.6" y="340.2" font-size="17.0" font-weight="normal" font-style="normal" fill="#000" text-anchor="start" >0.2 W/g</text>
<line x1="280.0" y1="313.0" x2="280.0" y2="352.0" stroke="#111" stroke-width="1.20" />
<path d="M280,307.3 L278.3,314 L281.7,314 Z" fill="#111"/>
<path d="M280,357.9 L278.3,351.2 L281.7,351.2 Z" fill="#111"/>
<text x="282.2" y="292.3" font-size="20.5"><tspan font-weight="bold">c</tspan><tspan font-size="21">)</tspan></text>
<text x="344.8" y="266.8" font-size="19.0" font-weight="bold" font-style="italic" fill="#000" text-anchor="start" >T</text>
<text x="356.0" y="275.4" font-size="12.5" font-weight="bold" font-style="normal" fill="#000" text-anchor="start" >c</text>
<text x="362.3" y="255.4" font-size="11.5" font-weight="bold" font-style="normal" fill="#000" text-anchor="start" >HDPE2</text>
<path d="M556.80,33.60 C572.32,33.53 587.83,33.60 603.35,33.40 C618.87,33.20 634.38,32.43 649.90,32.40 C665.42,32.37 682.90,33.08 696.45,33.20 C706.94,33.29 715.07,33.20 724.38,33.20" fill="none" stroke="#c098c4" stroke-width="0.9" stroke-dasharray="2.6 2"/>
<path d="M556.80,33.60 C572.32,34.17 587.84,35.65 603.35,35.30 C618.88,34.95 637.27,29.32 649.90,31.50 C659.24,33.11 665.83,36.99 673.17,42.00 C681.46,47.65 689.71,55.68 696.45,64.70 C703.91,74.69 710.24,88.81 715.07,100.00 C719.17,109.52 721.01,119.09 724.38,127.30 C727.28,134.36 730.59,140.10 733.69,146.50" fill="none" stroke="#c098c4" stroke-width="0.9" stroke-dasharray="2.6 2"/>
<path d="M603.35,312.80 C611.11,317.20 618.62,322.99 626.62,326.00 C634.17,328.84 642.20,331.26 649.90,330.80 C657.72,330.33 665.38,325.34 673.17,323.00 C680.90,320.68 689.76,317.75 696.45,316.80 C701.37,316.10 705.00,316.25 709.48,316.50 C714.29,316.77 720.02,317.63 724.38,318.50 C727.87,319.20 731.33,318.56 733.69,321.00 C737.46,324.90 737.78,336.30 739.28,345.00 C741.02,355.12 741.76,367.13 743.00,378.20" fill="none" stroke="#777" stroke-width="0.9" stroke-dasharray="2.6 2"/>
<line x1="696.4" y1="24.5" x2="696.4" y2="42.5" stroke="#a868a8" stroke-width="0.95" />
<line x1="693.2" y1="24.5" x2="699.6" y2="24.5" stroke="#a868a8" stroke-width="0.95" />
<line x1="693.2" y1="42.5" x2="699.6" y2="42.5" stroke="#a868a8" stroke-width="0.95" />
<path d="M693.9,29.6 L700.4,33.2 L693.9,36.8 Z" fill="#fff" stroke="#800080" stroke-width="2.0" stroke-linejoin="miter"/>
<line x1="724.4" y1="24.5" x2="724.4" y2="42.5" stroke="#a868a8" stroke-width="0.95" />
<line x1="721.2" y1="24.5" x2="727.6" y2="24.5" stroke="#a868a8" stroke-width="0.95" />
<line x1="721.2" y1="42.5" x2="727.6" y2="42.5" stroke="#a868a8" stroke-width="0.95" />
<path d="M721.9,29.6 L728.4,33.2 L721.9,36.8 Z" fill="#fff" stroke="#800080" stroke-width="2.0" stroke-linejoin="miter"/>
<line x1="556.8" y1="24.5" x2="556.8" y2="42.5" stroke="#a868a8" stroke-width="0.95" />
<line x1="553.6" y1="24.5" x2="560.0" y2="24.5" stroke="#a868a8" stroke-width="0.95" />
<line x1="553.6" y1="42.5" x2="560.0" y2="42.5" stroke="#a868a8" stroke-width="0.95" />
<path d="M553.3,28.5 L562.3,33.6 L553.3,38.7 Z" fill="#800080"/>
<line x1="603.3" y1="26.3" x2="603.3" y2="44.1" stroke="#a868a8" stroke-width="0.95" />
<line x1="600.1" y1="26.3" x2="606.5" y2="26.3" stroke="#a868a8" stroke-width="0.95" />
<line x1="600.1" y1="44.1" x2="606.5" y2="44.1" stroke="#a868a8" stroke-width="0.95" />
<path d="M599.8,30.2 L608.8,35.3 L599.8,40.4 Z" fill="#800080"/>
<line x1="649.9" y1="22.6" x2="649.9" y2="40.4" stroke="#a868a8" stroke-width="0.95" />
<line x1="646.7" y1="22.6" x2="653.1" y2="22.6" stroke="#a868a8" stroke-width="0.95" />
<line x1="646.7" y1="40.4" x2="653.1" y2="40.4" stroke="#a868a8" stroke-width="0.95" />
<path d="M646.4,26.4 L655.4,31.5 L646.4,36.6 Z" fill="#800080"/>
<line x1="696.4" y1="54.0" x2="696.4" y2="75.0" stroke="#a868a8" stroke-width="0.95" />
<line x1="693.2" y1="54.0" x2="699.6" y2="54.0" stroke="#a868a8" stroke-width="0.95" />
<line x1="693.2" y1="75.0" x2="699.6" y2="75.0" stroke="#a868a8" stroke-width="0.95" />
<path d="M692.9,59.6 L701.9,64.7 L692.9,69.8 Z" fill="#800080"/>
<line x1="724.4" y1="116.3" x2="724.4" y2="138.3" stroke="#a868a8" stroke-width="0.95" />
<line x1="721.2" y1="116.3" x2="727.6" y2="116.3" stroke="#a868a8" stroke-width="0.95" />
<line x1="721.2" y1="138.3" x2="727.6" y2="138.3" stroke="#a868a8" stroke-width="0.95" />
<path d="M720.9,122.2 L729.9,127.3 L720.9,132.4 Z" fill="#800080"/>
<line x1="733.7" y1="136.4" x2="733.7" y2="157.5" stroke="#a868a8" stroke-width="0.95" />
<line x1="730.5" y1="136.4" x2="736.9" y2="136.4" stroke="#a868a8" stroke-width="0.95" />
<line x1="730.5" y1="157.5" x2="736.9" y2="157.5" stroke="#a868a8" stroke-width="0.95" />
<path d="M730.2,141.4 L739.2,146.5 L730.2,151.6 Z" fill="#800080"/>
<line x1="603.3" y1="300.3" x2="603.3" y2="325.8" stroke="#707070" stroke-width="0.95" />
<line x1="600.1" y1="300.3" x2="606.5" y2="300.3" stroke="#707070" stroke-width="0.95" />
<line x1="600.1" y1="325.8" x2="606.5" y2="325.8" stroke="#707070" stroke-width="0.95" />
<rect x="599.8" y="309.3" width="7.0" height="7.0" fill="#000"/>
<line x1="649.9" y1="326.7" x2="649.9" y2="351.3" stroke="#707070" stroke-width="0.95" />
<line x1="646.7" y1="326.7" x2="653.1" y2="326.7" stroke="#707070" stroke-width="0.95" />
<line x1="646.7" y1="351.3" x2="653.1" y2="351.3" stroke="#707070" stroke-width="0.95" />
<rect x="646.4" y="335.7" width="7.0" height="7.0" fill="#000"/>
<line x1="696.4" y1="300.3" x2="696.4" y2="326.3" stroke="#707070" stroke-width="0.95" />
<line x1="693.2" y1="300.3" x2="699.6" y2="300.3" stroke="#707070" stroke-width="0.95" />
<line x1="693.2" y1="326.3" x2="699.6" y2="326.3" stroke="#707070" stroke-width="0.95" />
<rect x="692.9" y="309.3" width="7.0" height="7.0" fill="#000"/>
<line x1="724.4" y1="307.0" x2="724.4" y2="332.5" stroke="#707070" stroke-width="0.95" />
<line x1="721.2" y1="307.0" x2="727.6" y2="307.0" stroke="#707070" stroke-width="0.95" />
<line x1="721.2" y1="332.5" x2="727.6" y2="332.5" stroke="#707070" stroke-width="0.95" />
<rect x="720.9" y="316.2" width="7.0" height="7.0" fill="#000"/>
<line x1="733.7" y1="307.0" x2="733.7" y2="332.5" stroke="#707070" stroke-width="0.95" />
<line x1="730.5" y1="307.0" x2="736.9" y2="307.0" stroke="#707070" stroke-width="0.95" />
<line x1="730.5" y1="332.5" x2="736.9" y2="332.5" stroke="#707070" stroke-width="0.95" />
<rect x="730.2" y="316.2" width="7.0" height="7.0" fill="#000"/>
<line x1="743.0" y1="367.2" x2="743.0" y2="389.5" stroke="#707070" stroke-width="0.95" />
<line x1="739.8" y1="367.2" x2="746.2" y2="367.2" stroke="#707070" stroke-width="0.95" />
<line x1="739.8" y1="389.5" x2="746.2" y2="389.5" stroke="#707070" stroke-width="0.95" />
<rect x="739.5" y="374.7" width="7.0" height="7.0" fill="#000"/>
<line x1="556.8" y1="6.5" x2="743.0" y2="6.5" stroke="#222" stroke-width="1.40" />
<line x1="556.8" y1="404.0" x2="743.0" y2="404.0" stroke="#222" stroke-width="1.40" />
<line x1="556.8" y1="5.8" x2="556.8" y2="201.3" stroke="#222" stroke-width="1.40" />
<line x1="556.8" y1="209.3" x2="556.8" y2="404.7" stroke="#222" stroke-width="1.40" />
<line x1="743.0" y1="5.8" x2="743.0" y2="201.3" stroke="#222" stroke-width="1.40" />
<line x1="743.0" y1="209.3" x2="743.0" y2="404.7" stroke="#222" stroke-width="1.40" />
<line x1="550.2" y1="206.0" x2="564.0" y2="198.4" stroke="#222" stroke-width="1.50" />
<line x1="550.2" y1="212.6" x2="564.0" y2="205.0" stroke="#222" stroke-width="1.50" />
<line x1="736.4" y1="206.0" x2="750.2" y2="198.4" stroke="#222" stroke-width="1.50" />
<line x1="736.4" y1="212.6" x2="750.2" y2="205.0" stroke="#222" stroke-width="1.50" />
<line x1="603.3" y1="6.5" x2="603.3" y2="13.5" stroke="#222" stroke-width="1.30" />
<line x1="603.3" y1="404.0" x2="603.3" y2="397.0" stroke="#222" stroke-width="1.30" />
<line x1="649.9" y1="6.5" x2="649.9" y2="13.5" stroke="#222" stroke-width="1.30" />
<line x1="649.9" y1="404.0" x2="649.9" y2="397.0" stroke="#222" stroke-width="1.30" />
<line x1="696.4" y1="6.5" x2="696.4" y2="13.5" stroke="#222" stroke-width="1.30" />
<line x1="696.4" y1="404.0" x2="696.4" y2="397.0" stroke="#222" stroke-width="1.30" />
<line x1="580.1" y1="6.5" x2="580.1" y2="10.3" stroke="#222" stroke-width="1.30" />
<line x1="580.1" y1="404.0" x2="580.1" y2="400.2" stroke="#222" stroke-width="1.30" />
<line x1="626.6" y1="6.5" x2="626.6" y2="10.3" stroke="#222" stroke-width="1.30" />
<line x1="626.6" y1="404.0" x2="626.6" y2="400.2" stroke="#222" stroke-width="1.30" />
<line x1="673.2" y1="6.5" x2="673.2" y2="10.3" stroke="#222" stroke-width="1.30" />
<line x1="673.2" y1="404.0" x2="673.2" y2="400.2" stroke="#222" stroke-width="1.30" />
<line x1="719.7" y1="6.5" x2="719.7" y2="10.3" stroke="#222" stroke-width="1.30" />
<line x1="719.7" y1="404.0" x2="719.7" y2="400.2" stroke="#222" stroke-width="1.30" />
<line x1="556.8" y1="25.4" x2="563.8" y2="25.4" stroke="#222" stroke-width="1.30" />
<line x1="743.0" y1="25.4" x2="736.0" y2="25.4" stroke="#222" stroke-width="1.30" />
<line x1="556.8" y1="103.8" x2="563.8" y2="103.8" stroke="#222" stroke-width="1.30" />
<line x1="743.0" y1="103.8" x2="736.0" y2="103.8" stroke="#222" stroke-width="1.30" />
<line x1="556.8" y1="182.2" x2="563.8" y2="182.2" stroke="#222" stroke-width="1.30" />
<line x1="743.0" y1="182.2" x2="736.0" y2="182.2" stroke="#222" stroke-width="1.30" />
<line x1="556.8" y1="240.7" x2="563.8" y2="240.7" stroke="#222" stroke-width="1.30" />
<line x1="743.0" y1="240.7" x2="736.0" y2="240.7" stroke="#222" stroke-width="1.30" />
<line x1="556.8" y1="306.2" x2="563.8" y2="306.2" stroke="#222" stroke-width="1.30" />
<line x1="743.0" y1="306.2" x2="736.0" y2="306.2" stroke="#222" stroke-width="1.30" />
<line x1="556.8" y1="371.7" x2="563.8" y2="371.7" stroke="#222" stroke-width="1.30" />
<line x1="743.0" y1="371.7" x2="736.0" y2="371.7" stroke="#222" stroke-width="1.30" />
<line x1="556.8" y1="64.6" x2="560.6" y2="64.6" stroke="#222" stroke-width="1.30" />
<line x1="743.0" y1="64.6" x2="739.2" y2="64.6" stroke="#222" stroke-width="1.30" />
<line x1="556.8" y1="143.0" x2="560.6" y2="143.0" stroke="#222" stroke-width="1.30" />
<line x1="743.0" y1="143.0" x2="739.2" y2="143.0" stroke="#222" stroke-width="1.30" />
<line x1="556.8" y1="273.4" x2="560.6" y2="273.4" stroke="#222" stroke-width="1.30" />
<line x1="743.0" y1="273.4" x2="739.2" y2="273.4" stroke="#222" stroke-width="1.30" />
<line x1="556.8" y1="338.9" x2="560.6" y2="338.9" stroke="#222" stroke-width="1.30" />
<line x1="743.0" y1="338.9" x2="739.2" y2="338.9" stroke="#222" stroke-width="1.30" />
<text transform="translate(553.0,32.0) scale(1,1.170)" font-size="17.3" font-weight="normal" font-style="normal" fill="#000" text-anchor="end" >120</text>
<text transform="translate(553.0,110.4) scale(1,1.170)" font-size="17.3" font-weight="normal" font-style="normal" fill="#000" text-anchor="end" >100</text>
<text transform="translate(553.0,188.8) scale(1,1.170)" font-size="17.3" font-weight="normal" font-style="normal" fill="#000" text-anchor="end" >80</text>
<text transform="translate(553.0,247.3) scale(1,1.170)" font-size="17.3" font-weight="normal" font-style="normal" fill="#000" text-anchor="end" >45</text>
<text transform="translate(553.0,312.8) scale(1,1.170)" font-size="17.3" font-weight="normal" font-style="normal" fill="#000" text-anchor="end" >40</text>
<text transform="translate(553.0,378.3) scale(1,1.170)" font-size="17.3" font-weight="normal" font-style="normal" fill="#000" text-anchor="end" >35</text>
<text transform="translate(556.8,428.5) scale(1,1.170)" font-size="17.3" font-weight="normal" font-style="normal" fill="#000" text-anchor="middle" >0</text>
<text transform="translate(603.3,428.5) scale(1,1.170)" font-size="17.3" font-weight="normal" font-style="normal" fill="#000" text-anchor="middle" >25</text>
<text transform="translate(649.9,428.5) scale(1,1.170)" font-size="17.3" font-weight="normal" font-style="normal" fill="#000" text-anchor="middle" >50</text>
<text transform="translate(696.4,428.5) scale(1,1.170)" font-size="17.3" font-weight="normal" font-style="normal" fill="#000" text-anchor="middle" >75</text>
<text transform="translate(743.0,428.5) scale(1,1.170)" font-size="17.3" font-weight="normal" font-style="normal" fill="#000" text-anchor="middle" >100</text>
<text transform="translate(563.8,454) scale(1,1.06)" font-size="21.4"><tspan font-style="italic">PCL content</tspan> (wt.%)</text>
<text transform="translate(519,206) rotate(-90)" font-size="22" text-anchor="middle"><tspan font-style="italic">T</tspan><tspan font-style="italic" font-size="13.5" dy="5.8">c</tspan><tspan dy="-5.8"> (°C)</tspan></text>
<text x="568.8" y="372.5" font-size="19"><tspan font-weight="bold">d</tspan><tspan font-size="20">)</tspan></text>
<line x1="589.4" y1="159.7" x2="631.5" y2="159.7" stroke="#c098c4" stroke-width="1.00" stroke-dasharray="2.6 2"/>
<path d="M609.2,154.9 L617.9,159.7 L609.2,164.5 Z" fill="#fff" stroke="#800080" stroke-width="2.0" stroke-linejoin="miter"/>
<line x1="589.4" y1="182.5" x2="631.5" y2="182.5" stroke="#c098c4" stroke-width="1.00" stroke-dasharray="2.6 2"/>
<path d="M608.2,176.2 L619.4,182.5 L608.2,188.8 Z" fill="#800080"/>
<line x1="589.4" y1="206.1" x2="631.5" y2="206.1" stroke="#777" stroke-width="1.00" stroke-dasharray="2.6 2"/>
<rect x="607.2" y="201.8" width="8.6" height="8.6" fill="#000"/>
<text transform="translate(638.4,165.4) scale(1,1.170)" font-size="17.3" font-weight="normal" font-style="normal" fill="#000" text-anchor="start" >HDPE1</text>
<text transform="translate(638.4,188.4) scale(1,1.170)" font-size="17.3" font-weight="normal" font-style="normal" fill="#000" text-anchor="start" >HDPE2</text>
<text transform="translate(638.4,212.0) scale(1,1.170)" font-size="17.3" font-weight="normal" font-style="normal" fill="#000" text-anchor="start" >PCL</text>
</svg>
</body></html>
